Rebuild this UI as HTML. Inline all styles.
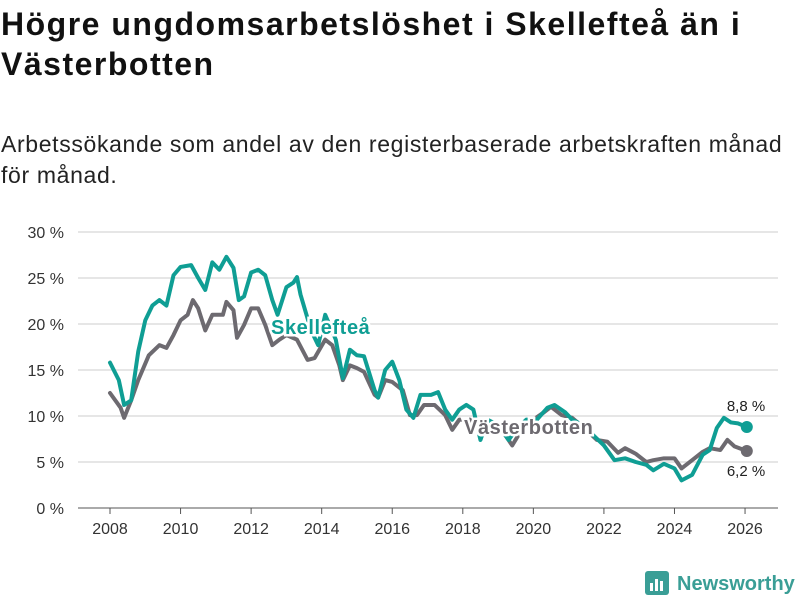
<!DOCTYPE html>
<html><head><meta charset="utf-8"><style>
body{margin:0;width:800px;height:600px;background:#fff;font-family:"Liberation Sans",sans-serif;overflow:hidden;position:relative}
h1{position:absolute;left:1px;top:4px;margin:0;font-size:32px;letter-spacing:1.5px;line-height:40px;font-weight:bold;color:#111;width:799px;white-space:nowrap}
p{position:absolute;left:1px;top:129px;margin:0;font-size:23px;letter-spacing:0.65px;line-height:31px;color:#222;width:799px;white-space:nowrap}
</style></head><body>
<h1>Högre ungdomsarbetslöshet i Skellefteå än i<br>Västerbotten</h1>
<p>Arbetssökande som andel av den registerbaserade arbetskraften månad<br>för månad.</p>
<svg id="chart" width="800" height="600" style="position:absolute;left:0;top:0"></svg>
<script>
const yTicks=[0,5,10,15,20,25,30];
const xTicks=[2008,2010,2012,2014,2016,2018,2020,2022,2024,2026];
const skeT=[2008,2008.25,2008.4,2008.6,2008.8,2009,2009.2,2009.4,2009.6,2009.8,2010,2010.3,2010.5,2010.7,2010.9,2011.1,2011.3,2011.5,2011.65,2011.8,2012,2012.2,2012.4,2012.6,2012.75,2013,2013.2,2013.3,2013.4,2013.7,2013.9,2014.1,2014.4,2014.6,2014.8,2015,2015.2,2015.5,2015.6,2015.8,2016,2016.2,2016.4,2016.6,2016.8,2017.1,2017.3,2017.5,2017.7,2017.9,2018.1,2018.3,2018.5,2018.7,2019,2019.3,2019.5,2019.8,2020.1,2020.4,2020.6,2020.9,2021.1,2021.4,2021.7,2022,2022.3,2022.6,2022.9,2023.2,2023.4,2023.7,2024,2024.2,2024.5,2024.8,2025,2025.2,2025.4,2025.6,2025.8,2026.05];
const skeV=[15.8,13.9,11.2,11.7,17,20.4,22,22.6,22,25.3,26.2,26.4,25,23.7,26.7,25.9,27.3,26.1,22.6,23,25.6,25.9,25.3,22.6,21,24,24.5,25.1,23.2,19.3,17.7,21,18.3,14.1,17.2,16.6,16.5,12.8,12,15,15.9,13.9,10.7,9.8,12.3,12.3,12.6,10.7,9.6,10.7,11.2,10.7,7.4,9.6,9,7.4,8.5,9.6,9.6,10.9,11.2,10.4,9.6,9,7.9,6.8,5.2,5.4,5,4.7,4.1,4.8,4.3,3,3.6,5.8,6.3,8.7,9.8,9.3,9.2,8.8];
const vasT=[2008,2008.3,2008.4,2008.6,2008.8,2009.1,2009.4,2009.6,2009.8,2010,2010.2,2010.35,2010.5,2010.7,2010.9,2011.2,2011.3,2011.5,2011.6,2011.8,2012,2012.2,2012.4,2012.6,2012.8,2013,2013.3,2013.6,2013.8,2014.1,2014.3,2014.5,2014.6,2014.8,2015,2015.2,2015.5,2015.6,2015.8,2016,2016.3,2016.5,2016.7,2016.9,2017.2,2017.5,2017.7,2017.9,2018.2,2018.5,2018.8,2019.1,2019.4,2019.7,2020,2020.3,2020.5,2020.8,2021.1,2021.5,2021.8,2022.1,2022.4,2022.6,2022.9,2023.2,2023.4,2023.7,2024,2024.2,2024.5,2024.8,2025,2025.3,2025.5,2025.7,2026.05];
const vasV=[12.5,10.9,9.8,11.7,13.9,16.6,17.7,17.4,18.8,20.4,21,22.6,21.7,19.3,21,21,22.4,21.5,18.5,19.9,21.7,21.7,19.9,17.7,18.3,18.8,18.3,16.1,16.3,18.3,17.7,15.5,13.9,15.5,15.2,14.8,12.3,12,13.9,13.7,12.8,10.1,10.1,11.2,11.2,10.1,8.5,9.6,9.6,8.2,9,8.5,6.8,8.7,9.6,10.4,11,10.1,9.8,8.5,7.4,7.2,6,6.5,5.9,5,5.2,5.4,5.4,4.3,5.2,6.1,6.5,6.3,7.4,6.7,6.2];
const svg=document.getElementById('chart');const NS='http://www.w3.org/2000/svg';
const X=t=>110+(t-2008)*35.28, Y=v=>508-v*9.2;
function mk(tag,attrs,parent){const e=document.createElementNS(NS,tag);for(const k in attrs)e.setAttribute(k,attrs[k]);(parent||svg).appendChild(e);return e;}
yTicks.forEach(v=>{
 const l=mk('line',{x1:78,x2:778,y1:Y(v),y2:Y(v),stroke:v===0?'#555':'#ddd','stroke-width':v===0?1:1.5});
 
 
 const t=mk('text',{x:64,y:Y(v)+6,'text-anchor':'end','font-size':16,fill:'#333','font-family':'Liberation Sans'});t.textContent=v+' %';
 
 
});
xTicks.forEach(yr=>{
 const l=mk('line',{x1:X(yr),x2:X(yr),y1:508,y2:514,stroke:'#555'});
 
 
 const t=mk('text',{x:X(yr),y:534,'text-anchor':'middle','font-size':16,fill:'#333','font-family':'Liberation Sans'});t.textContent=yr;
 
 
});
function line(T,V,color,name){
 const p=mk('polyline',{points:T.map((t,i)=>X(t)+','+Y(V[i])).join(' '),fill:'none',stroke:color,'stroke-width':4,'stroke-linejoin':'round','stroke-linecap':'round'});
 
 
 const c=mk('circle',{cx:X(T[T.length-1]),cy:Y(V[V.length-1]),r:6,fill:color});
 
 
}
line(vasT,vasV,'#6d6a70','vasterbotten');
line(skeT,skeV,'#0f9e94','skelleftea');
function lab(x,y,txt,color,name,size,bold,anchor,ls){
 const t=mk('text',{x:x,y:y,'font-size':size,'font-weight':bold?'bold':'normal',fill:color,stroke:'#fff','stroke-width':bold?5:0,'paint-order':'stroke','text-anchor':anchor||'start','letter-spacing':ls||0,'font-family':'Liberation Sans'});t.textContent=txt;
 
 
}
lab(271,334,'Skellefteå','#0f9e94','skelleftea-label',20,true,'start',0.6);
lab(464,434,'Västerbotten','#6d6a70','vasterbotten-label',20,true,'start',0.6);
lab(746,411,'8,8 %','#222','skelleftea-end-value',15,false,'middle');
lab(746,476,'6,2 %','#222','vasterbotten-end-value',15,false,'middle');
const g=mk('g',{});
mk('rect',{x:645,y:571,width:24,height:24,rx:3,fill:'#3a9e96'},g);
mk('rect',{x:650,y:583,width:3,height:8,fill:'#fff'},g);
mk('rect',{x:655,y:579,width:3,height:12,fill:'#fff'},g);
mk('rect',{x:660,y:581,width:3,height:10,fill:'#fff'},g);
const lt=mk('text',{x:677,y:590,'font-size':20,'font-weight':'bold',fill:'#3a9e96','font-family':'Liberation Sans'},g);lt.textContent='Newsworthy';
</script>
</body></html>
